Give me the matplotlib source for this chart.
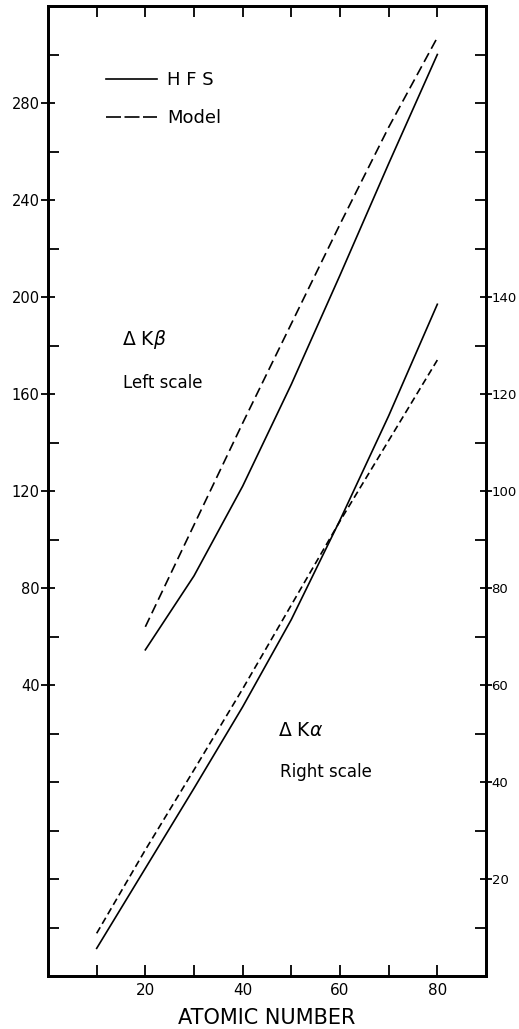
import matplotlib
matplotlib.use("Agg")
import matplotlib.pyplot as plt
from matplotlib.lines import Line2D

plt.rcParams['font.family'] = ['DejaVu Sans']

# K-beta shift, left scale
z_kb = [20, 30, 40, 50, 60, 70, 80]
kb_hfs = [54.5, 85, 122, 164, 209, 255, 300]
kb_model = [64, 106, 148, 189, 230, 270, 307]

# K-alpha shift, right scale
z_ka = [10, 20, 30, 40, 50, 60, 70, 80]
ka_hfs = [5.7, 22.2, 38.7, 55.5, 73.5, 94, 115.5, 138.5]
ka_model = [8.8, 26, 42.5, 59.2, 76.5, 93.8, 110.4, 127]

x_major = [20, 40, 60, 80]
x_minor = [10, 30, 50, 70]
left_major = list(range(40, 281, 40))
left_minor = [v for v in range(-60, 301, 20) if v not in left_major]
right_major = list(range(20, 141, 20))
right_minor = [v for v in range(10, 191, 10) if v not in right_major]

fig = plt.figure(figsize=(5.19, 10.29), dpi=100)
ax = fig.add_axes([48/519, 1-976/1029, 438/519, 970/1029])
ax2 = ax.twinx()

lw = 1.2
ax.plot(z_kb, kb_hfs, color='black', lw=lw)
ax.plot(z_kb, kb_model, color='black', lw=lw, dashes=(6, 3))
ax2.plot(z_ka, ka_hfs, color='black', lw=lw)
ax2.plot(z_ka, ka_model, color='black', lw=lw, dashes=(4.2, 2.4))

ax.set_xlim(0, 90)
ax.set_ylim(-80, 320)
ax2.set_ylim(0, 200)

ax.set_xticks(x_major)
ax.set_xticks(x_minor, minor=True)
ax.set_yticks(left_major)
ax.set_yticks(left_minor, minor=True)
ax2.set_yticks(right_major)
ax2.set_yticks(right_minor, minor=True)

ax.tick_params(axis='x', which='both', direction='in', top=True, length=8, width=1.3,
               labelsize=11, pad=5)
ax.tick_params(axis='y', which='major', direction='inout', length=10, width=1.3,
               labelsize=10.5, pad=1)
ax.tick_params(axis='y', which='minor', direction='in', length=8, width=1.3)
ax2.tick_params(axis='y', which='major', direction='inout', length=8, width=1.3,
                labelsize=9.5, pad=0)
ax2.tick_params(axis='y', which='minor', direction='in', length=8, width=1.3)

for a in (ax, ax2):
    for s in a.spines.values():
        s.set_linewidth(2)

ax.set_xlabel('ATOMIC NUMBER', fontsize=15, labelpad=7)

handles = [Line2D([], [], color='black', lw=lw),
           Line2D([], [], color='black', lw=lw, dashes=(9, 2.1))]
ax.legend(handles, ['H F S', 'Model'], loc='upper left', bbox_to_anchor=(0.1324, 0.933),
          frameon=False, fontsize=13, handlelength=2.83, handletextpad=0.55,
          labelspacing=1.1, borderpad=0, borderaxespad=0)

ax.text(0.168, 0.6557, u'\u0394 K$\\beta$', transform=ax.transAxes, fontsize=13.5,
        va='center', ha='left')
ax.text(0.172, 0.6117, 'Left scale', transform=ax.transAxes, fontsize=12,
        va='center', ha='left')
ax.text(0.526, 0.2536, u'\u0394 K$\\alpha$', transform=ax.transAxes, fontsize=13.5,
        va='center', ha='left')
ax.text(0.530, 0.2106, 'Right scale', transform=ax.transAxes, fontsize=12,
        va='center', ha='left')

fig.savefig('out.png', dpi=100)
